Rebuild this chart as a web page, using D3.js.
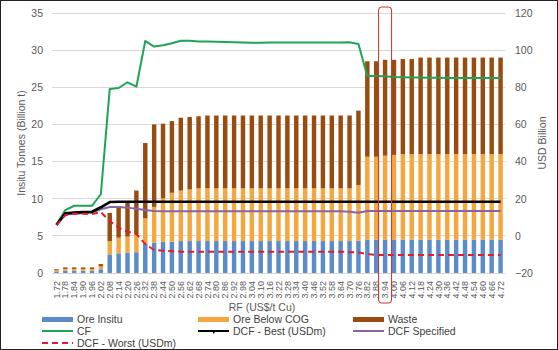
<!DOCTYPE html>
<html><head><meta charset="utf-8">
<script src="https://cdn.jsdelivr.net/npm/d3@7/dist/d3.min.js"></script>
<style>
body{margin:0;background:#fff;}
svg{display:block;font-family:"Liberation Sans",Arial,sans-serif;}
</style></head>
<body><svg id="c" width="558" height="350"></svg>
<script>
const rf = ["1.72","1.78","1.84","1.90","1.96","2.02","2.08","2.14","2.20","2.26","2.32","2.38","2.44","2.50","2.56","2.62","2.68","2.74","2.80","2.86","2.92","2.98","3.04","3.10","3.16","3.22","3.28","3.34","3.40","3.46","3.52","3.58","3.64","3.70","3.76","3.82","3.88","3.94","4.00","4.06","4.12","4.18","4.24","4.30","4.36","4.42","4.48","4.54","4.60","4.66","4.72"];
const oreInsitu = [0.15,0.3,0.3,0.3,0.3,0.5,2.5,2.65,2.75,2.8,4.0,4.1,4.2,4.2,4.3,4.3,4.3,4.3,4.3,4.3,4.3,4.3,4.3,4.3,4.3,4.3,4.3,4.3,4.3,4.3,4.3,4.3,4.3,4.3,4.35,4.5,4.5,4.5,4.5,4.5,4.5,4.5,4.5,4.5,4.5,4.5,4.5,4.5,4.5,4.5,4.5];
const oreBelowCOG = [0.2,0.25,0.25,0.25,0.25,0.4,1.8,2.1,2.15,2.4,3.35,4.8,5.85,6.6,6.8,6.95,7.1,7.1,7.1,7.1,7.1,7.1,7.1,7.1,7.1,7.1,7.1,7.1,7.1,7.1,7.1,7.1,7.1,7.1,7.5,11.15,11.15,11.3,11.4,11.5,11.5,11.5,11.5,11.5,11.5,11.5,11.5,11.5,11.5,11.5,11.5];
const waste = [0.15,0.2,0.2,0.2,0.2,0.3,3.8,4.25,4.7,5.9,10.15,11.1,10.05,9.65,9.8,9.75,9.7,9.8,9.8,9.8,9.8,9.8,9.8,9.8,9.8,9.8,9.8,9.8,9.8,9.8,9.8,9.8,9.8,9.8,10.0,12.85,12.85,12.9,12.8,12.8,12.8,13.0,13.0,13.0,13.0,13.0,13.0,13.0,13.0,13.0,13.0];
const cf = [6.0,13.9,16.2,16.2,16.2,22.4,79.1,79.6,82.7,80.3,104.9,101.9,102.6,103.7,105.1,105.1,104.6,104.6,104.5,104.4,104.2,104.1,104.0,104.0,104.1,104.1,104.1,104.1,104.1,104.1,104.1,104.1,104.1,104.2,103.3,86.1,86.1,86.0,85.5,85.4,85.3,85.3,85.2,85.1,85.0,85.0,85.0,85.0,85.0,85.0,85.0];
const dcfBest = [5.9,12.1,12.5,12.8,13.0,15.4,18.2,18.4,18.4,18.4,18.4,18.4,18.4,18.4,18.4,18.4,18.4,18.4,18.4,18.4,18.4,18.4,18.4,18.4,18.4,18.4,18.4,18.4,18.4,18.4,18.4,18.4,18.4,18.4,18.4,18.4,18.4,18.4,18.4,18.4,18.4,18.4,18.4,18.4,18.4,18.4,18.4,18.4,18.4,18.4,18.4];
const dcfSpecified = [5.9,11.6,11.8,12.3,12.5,14.3,15.5,15.5,15.2,14.6,13.9,13.4,13.3,13.3,13.2,13.3,13.3,13.2,13.3,13.3,13.2,13.3,13.3,13.3,13.2,13.3,13.3,13.3,13.2,13.3,13.3,13.3,13.2,13.0,12.4,13.4,13.4,13.4,13.4,13.4,13.4,13.4,13.4,13.4,13.4,13.4,13.4,13.4,13.4,13.4,13.4];
const dcfWorst = [5.8,11.1,11.9,11.9,11.7,12.8,8.0,4.3,2.3,1.0,-4.5,-7.6,-8.0,-8.3,-8.5,-8.5,-8.5,-8.5,-8.5,-8.5,-8.5,-8.5,-8.5,-8.5,-8.5,-8.5,-8.5,-8.5,-8.5,-8.5,-8.5,-8.5,-8.5,-8.8,-8.9,-9.8,-10.3,-10.3,-10.3,-10.3,-10.3,-10.3,-10.3,-10.3,-10.3,-10.3,-10.3,-10.3,-10.3,-10.3,-10.3];
const leftTicks = [0,5,10,15,20,25,30,35];
const rightTicks = [-20,0,20,40,60,80,100,120];
const highlight = "3.94";

const svg = d3.select("#c");
const L = 52, R = 505, T = 13, B = 273;
svg.append("rect").attr("x",0.5).attr("y",0.5).attr("width",557).attr("height",349).attr("fill","#fff").attr("stroke","#222");

const x = d3.scaleBand().domain(rf).range([L,R]).paddingInner(0.5).paddingOuter(0.25);
const yL = d3.scaleLinear().domain([0,35]).range([B,T]);
const yR = d3.scaleLinear().domain([-20,120]).range([B,T]);

svg.append("g").selectAll("line").data(leftTicks).join("line")
  .attr("x1",L).attr("x2",R).attr("y1",d=>yL(d)).attr("y2",d=>yL(d))
  .attr("stroke","#d9d9d9").attr("stroke-width",1).attr("shape-rendering","crispEdges");

const gL = svg.append("g").attr("transform",`translate(${L-9},0)`)
  .call(d3.axisLeft(yL).tickValues(leftTicks).tickSize(0).tickPadding(0));
gL.select(".domain").remove();
gL.selectAll("text").attr("fill","#595959").style("font-size","10.5px").style("font-family","Liberation Sans, Arial, sans-serif");

const gR = svg.append("g").attr("transform",`translate(${R+10},0)`)
  .call(d3.axisRight(yR).tickValues(rightTicks).tickSize(0).tickPadding(0));
gR.select(".domain").remove();
gR.selectAll("text").attr("fill","#595959").style("font-size","10.5px").style("font-family","Liberation Sans, Arial, sans-serif");

const rows = rf.map((r,i)=>({rf:r, insitu:oreInsitu[i], below:oreBelowCOG[i], waste:waste[i]}));
const stack = d3.stack().keys(["insitu","below","waste"])(rows);
const colors = {insitu:"#5b8bc8", below:"#f5a73e", waste:"#984c10"};
svg.append("g").selectAll("g").data(stack).join("g").attr("fill",d=>colors[d.key])
  .selectAll("rect").data(d=>d).join("rect")
  .attr("x",d=>x(d.data.rf)).attr("width",x.bandwidth())
  .attr("y",d=>yL(d[1])).attr("height",d=>yL(d[0])-yL(d[1]));

const line = arr => d3.line().x((d,i)=>x(rf[i])+x.bandwidth()/2).y(d=>yR(d))(arr);
const lineSpecs = [
  {data:cf, color:"#1ea456", w:2, dash:null},
  {data:dcfSpecified, color:"#8466a8", w:2, dash:null},
  {data:dcfBest, color:"#000", w:2.6, dash:null},
  {data:dcfWorst, color:"#e41b2c", w:2, dash:"6,4"}
];
svg.append("g").selectAll("path").data(lineSpecs).join("path")
  .attr("d",d=>line(d.data)).attr("fill","none").attr("stroke",d=>d.color)
  .attr("stroke-width",d=>d.w).attr("stroke-dasharray",d=>d.dash)
  .attr("stroke-linejoin","round");

svg.append("g").selectAll("text").data(rf).join("text")
  .attr("transform",d=>`translate(${x(d)+x.bandwidth()/2},281) rotate(-90)`)
  .attr("text-anchor","end").attr("dy","0.35em")
  .attr("fill","#595959").style("font-size","9px").text(d=>d);

svg.append("rect").attr("x",x(highlight)+x.bandwidth()/2-6.5).attr("y",7)
  .attr("width",13).attr("height",296).attr("rx",3)
  .attr("fill","none").attr("stroke","#d62a2a").attr("stroke-width",1);

svg.append("text").attr("transform",`translate(25,${(T+B)/2}) rotate(-90)`)
  .attr("text-anchor","middle").attr("fill","#595959").style("font-size","10.5px").text("Insitu Tonnes (Billion t)");
svg.append("text").attr("transform",`translate(546,${(T+B)/2}) rotate(-90)`)
  .attr("text-anchor","middle").attr("fill","#595959").style("font-size","10.5px").text("USD Billion");
svg.append("text").attr("x",262).attr("y",310.5).attr("text-anchor","middle")
  .attr("fill","#595959").style("font-size","10.5px").text("RF (US$/t Cu)");

const legend = [
  {name:"Ore Insitu", type:"bar", color:colors.insitu},
  {name:"Ore Below COG", type:"bar", color:colors.below},
  {name:"Waste", type:"bar", color:colors.waste},
  {name:"CF", type:"line", color:"#1ea456"},
  {name:"DCF - Best (USDm)", type:"line", color:"#000", marker:true},
  {name:"DCF Specified", type:"line", color:"#8466a8"},
  {name:"DCF - Worst (USDm)", type:"line", color:"#e41b2c", dash:"6,4"}
];
const colX = [42,198,353], rowY = [319.5,331,343];
const lg = svg.append("g").selectAll("g").data(legend).join("g")
  .attr("transform",(d,i)=>`translate(${colX[i%3]},${rowY[Math.floor(i/3)]})`);
lg.filter(d=>d.type==="bar").append("rect").attr("x",0).attr("y",-2.5).attr("width",31).attr("height",5).attr("fill",d=>d.color);
lg.filter(d=>d.type==="line").append("line").attr("x1",0).attr("x2",31).attr("y1",0).attr("y2",0)
  .attr("stroke",d=>d.color).attr("stroke-width",2).attr("stroke-dasharray",d=>d.dash||null);
lg.filter(d=>d.marker).append("rect").attr("x",15).attr("y",-0.5).attr("width",1.5).attr("height",3).attr("fill","#000");
lg.append("text").attr("x",35).attr("dy","0.36em").attr("fill","#404040").style("font-size","10.5px").text(d=>d.name);
</script></body></html>
